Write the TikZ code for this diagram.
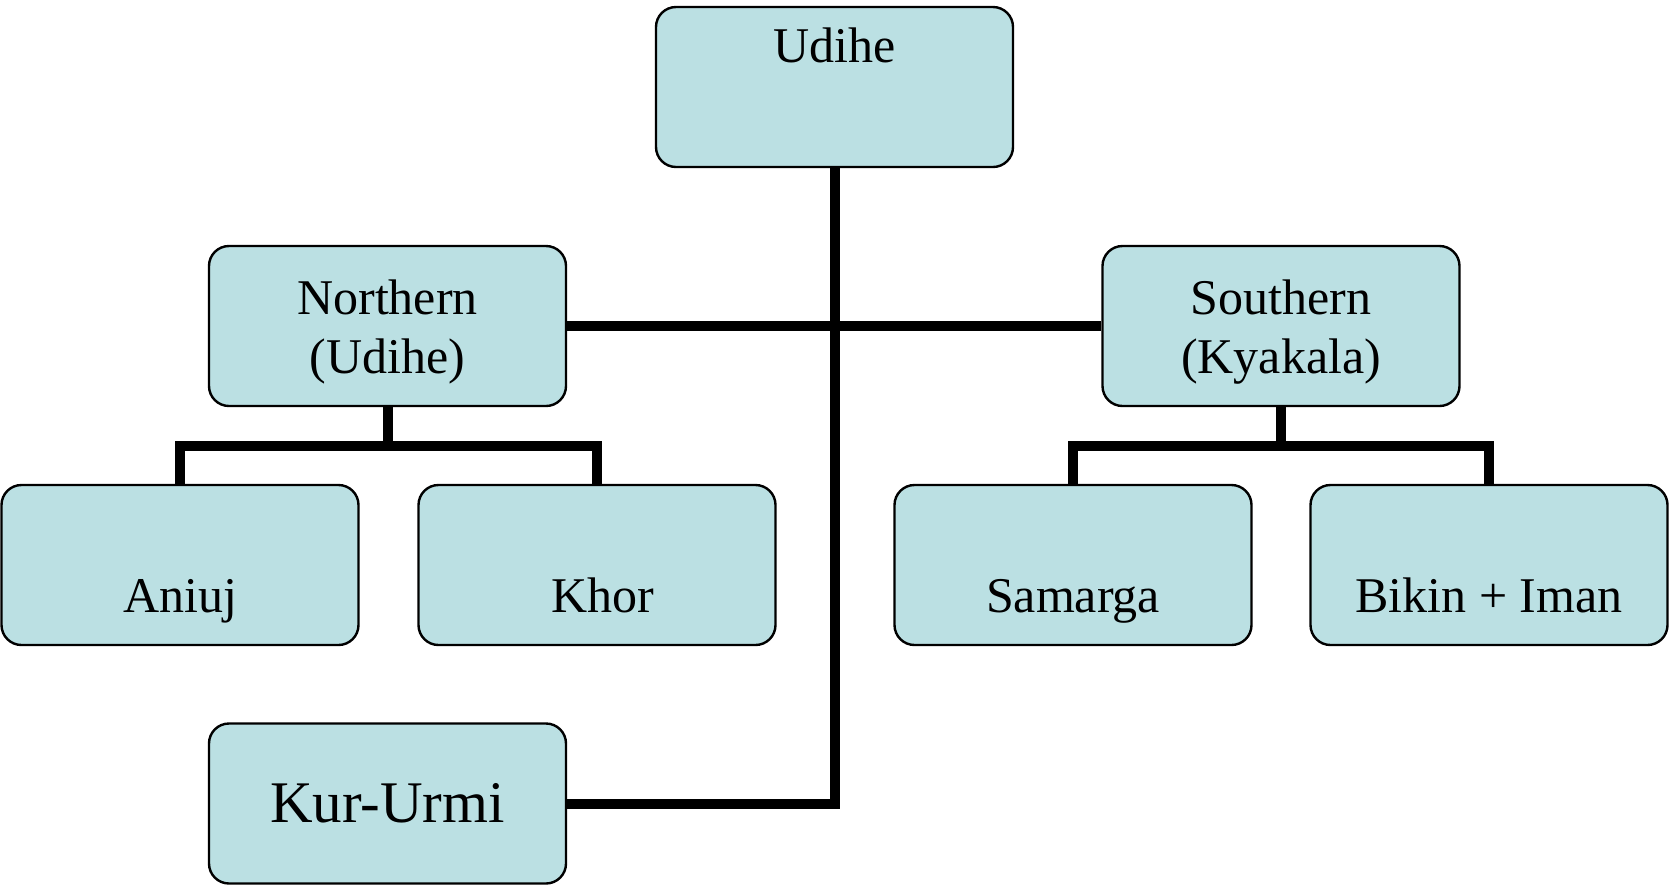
\documentclass[tikz,border=0pt]{standalone}
\usepackage{fontspec}
\setmainfont{Liberation Serif}
\usepackage{tikz}
\usetikzlibrary{
  positioning,
  calc
}
\definecolor{boxfill}{RGB}{187,224,227}

\begin{document}
\begin{tikzpicture}[x=0.5pt,y=-0.5pt,
    dialect/.style={draw=black,line width=1.2pt,fill=boxfill,rounded corners=10pt,
      minimum width=178.5pt,minimum height=80pt,inner sep=0pt,align=center,
      font=\fontsize{25}{29.5}\selectfont},
    toptext/.style={text height=18pt,text depth=43pt},
    bottomtext/.style={text height=55pt,text depth=8pt},
    twoline/.style={text height=53pt},
    link/.style={line width=5pt}]
    \useasboundingbox (0,0) rectangle (1670,885);
    \node[dialect,toptext] (udihe) at (834.5,87) {Udihe};
    \node[dialect,twoline] (north) at (387.5,326) {Northern\\(Udihe)};
    \node[dialect,twoline] (south) at (1281,326) {Southern\\(Kyakala)};
    \node[dialect,bottomtext] (aniuj) at (180,565) {Aniuj};
    \node[dialect,bottomtext] (khor) at (597,565) {\hspace{6pt}Khor};
    \node[dialect,bottomtext] (samarga) at (1073,565) {Samarga};
    \node[dialect,bottomtext] (bikin) at (1489,565) {Bikin + Iman};
    \node[dialect,font=\fontsize{29.5}{35}\selectfont] (kur) at (387.5,803.5) {Kur-Urmi};
    \coordinate (nbar) at ($(north.south)+(0,39)$);
    \coordinate (sbar) at ($(south.south)+(0,39)$);
    \draw[link] (udihe.south) |- (kur.east);
    \draw[link] (north.east) -- (south.west);
    \draw[link] (north.south) -- (nbar);
    \draw[link] (aniuj.north) |- (nbar) -| (khor.north);
    \draw[link] (south.south) -- (sbar);
    \draw[link] (samarga.north) |- (sbar) -| (bikin.north);
\end{tikzpicture}
\end{document}
